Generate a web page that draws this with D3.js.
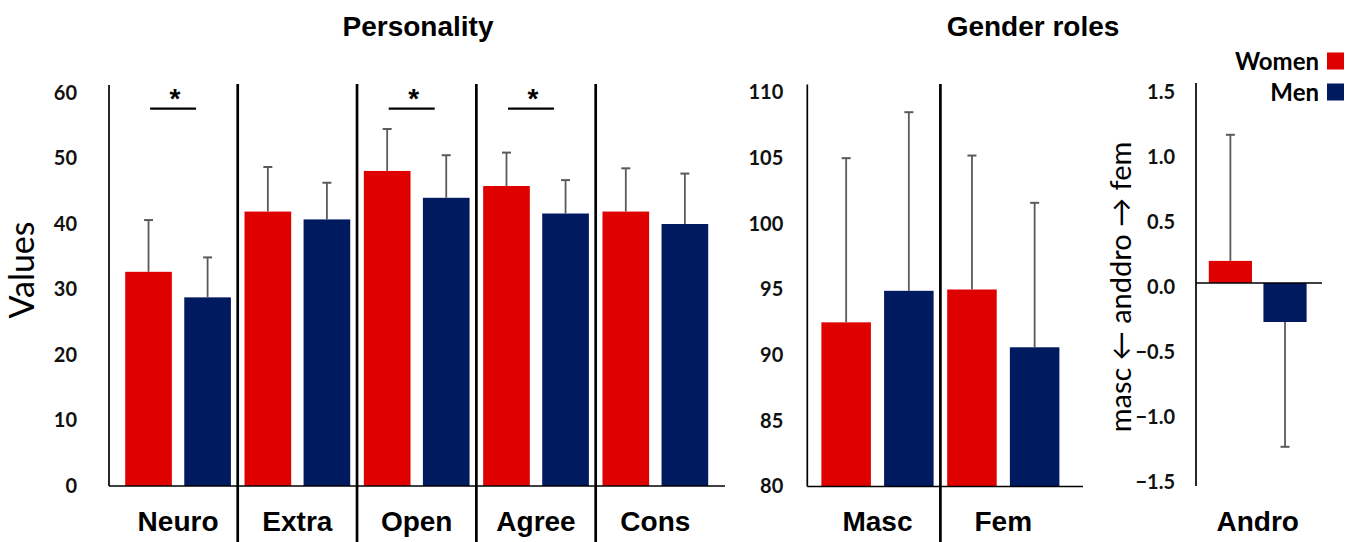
<!DOCTYPE html>
<html>
<head>
<meta charset="utf-8">
<script src="https://cdn.jsdelivr.net/npm/d3@7"></script>
<style>
  html, body { margin: 0; padding: 0; background: #fff; }
  svg { display: block; }
  .tick text { font-family: Lato, "Open Sans", sans-serif; font-weight: 700; font-size: 20px; fill: #111; }
</style>
</head>
<body>
<svg id="chart" width="1355" height="542"></svg>
<script>
// ---- data ----
const groups = ["Women", "Men"];

const traits = ["Neuro", "Extra", "Open", "Agree", "Cons"];
const traitWomen   = [32.7, 41.9, 48.1, 45.8, 41.9];
const traitWomenSD = [7.9, 6.8, 6.4, 5.1, 6.6];
const traitMen     = [28.8, 40.7, 44.0, 41.6, 40.0];
const traitMenSD   = [6.1, 5.6, 6.5, 5.1, 7.7];
const traitSignificant = ["Neuro", "Open", "Agree"];
const traitTicks = [0, 10, 20, 30, 40, 50, 60];

const roles = ["Masc", "Fem"];
const roleWomen   = [92.5, 95.0];
const roleWomenSD = [12.5, 10.2];
const roleMen     = [94.9, 90.6];
const roleMenSD   = [13.6, 11.0];
const roleTicks = [80, 85, 90, 95, 100, 105, 110];

const andro = ["Andro"];
const androWomen   = [0.17];
const androWomenSD = [0.97];
const androMen     = [-0.30];
const androMenSD   = [0.96];
const androTicks = [-1.5, -1.0, -0.5, 0.0, 0.5, 1.0, 1.5];

const colors = { Women: "#df0000", Men: "#001a60" };
const errColor = "#5a5a5a";
const titleFont = "'Liberation Sans', Arial, sans-serif";
const labelFont = "Lato, 'Open Sans', sans-serif";

const svg = d3.select("#chart");

function rows(cats, w, wsd, m, msd) {
  return cats.map((c, i) => ({
    cat: c,
    values: [
      { key: "Women", v: w[i], sd: wsd[i] },
      { key: "Men", v: m[i], sd: msd[i] }
    ]
  }));
}

// draws one panel: axis, bars with error bars, category labels
function panel(opts) {
  const { data, x, y, ticks, fmt, axisX, baseEnd, pad, topExt, sepTop, separators, labelDy } = opts;
  const g = svg.append("g");
  const sub = d3.scaleBand().domain(groups)
    .range([6.8, x.bandwidth() - 6.8]).paddingInner(0.21);

  const base = y(Math.max(y.domain()[0], Math.min(0, y.domain()[1])));

  // bars
  const cat = g.selectAll("g.cat").data(data).join("g")
    .attr("class", "cat")
    .attr("transform", d => `translate(${x(d.cat)},0)`);

  cat.selectAll("rect").data(d => d.values).join("rect")
    .attr("x", d => sub(d.key))
    .attr("width", sub.bandwidth())
    .attr("y", d => Math.min(y(d.v), base))
    .attr("height", d => Math.abs(y(d.v) - base))
    .attr("fill", d => colors[d.key]);

  // error bars pointing away from the baseline
  const eb = cat.selectAll("g.err").data(d => d.values).join("g").attr("class", "err");
  const end = d => y(d.v + (d.v >= 0 ? d.sd : -d.sd));
  eb.append("line")
    .attr("x1", d => sub(d.key) + sub.bandwidth() / 2)
    .attr("x2", d => sub(d.key) + sub.bandwidth() / 2)
    .attr("y1", d => y(d.v))
    .attr("y2", end)
    .attr("stroke", errColor).attr("stroke-width", 1.8);
  eb.append("line")
    .attr("x1", d => sub(d.key) + sub.bandwidth() / 2 - 4.5)
    .attr("x2", d => sub(d.key) + sub.bandwidth() / 2 + 4.5)
    .attr("y1", end).attr("y2", end)
    .attr("stroke", errColor).attr("stroke-width", 2);

  // y axis (labels only, line drawn separately)
  const ax = g.append("g")
    .attr("transform", `translate(${axisX},0)`)
    .call(d3.axisLeft(y).tickValues(ticks).tickFormat(fmt).tickSize(0).tickPadding(pad));
  ax.select(".domain").remove();
  if (labelDy) ax.selectAll(".tick text").attr("dy", labelDy);

  g.append("line")
    .attr("x1", axisX).attr("x2", axisX)
    .attr("y1", y(y.domain()[1]) - topExt)
    .attr("y2", opts.axisBottom !== undefined ? opts.axisBottom : base)
    .attr("stroke", "#000").attr("stroke-width", 1.7);

  // baseline
  g.append("line")
    .attr("x1", axisX).attr("x2", baseEnd)
    .attr("y1", base).attr("y2", base)
    .attr("stroke", "#000").attr("stroke-width", 1.7);

  // category separators
  if (separators) {
    x.domain().slice(1).forEach(c => {
      g.append("line")
        .attr("x1", x(c)).attr("x2", x(c))
        .attr("y1", sepTop).attr("y2", 542)
        .attr("stroke", "#000").attr("stroke-width", 2.7);
    });
  }

  // category labels
  g.selectAll("text.cat").data(x.domain()).join("text")
    .attr("class", "cat")
    .attr("x", d => x(d) + x.bandwidth() / 2)
    .attr("y", 531)
    .attr("text-anchor", "middle")
    .attr("font-family", titleFont)
    .attr("font-weight", 700)
    .attr("font-size", 28)
    .attr("fill", "#000")
    .text(d => d);

  return g;
}

// ---- Personality ----
const y1 = d3.scaleLinear().domain([0, 60]).range([486, 93]);
const x1 = d3.scaleBand().domain(traits).range([118.4, 715]);
panel({
  data: rows(traits, traitWomen, traitWomenSD, traitMen, traitMenSD),
  x: x1, y: y1, ticks: traitTicks, fmt: d3.format("d"),
  axisX: 109, baseEnd: 725, pad: 32, topExt: 8, sepTop: 84, separators: true
});

// significance markers
const sigLevel = 57.6;
traitSignificant.forEach(c => {
  const cx = x1(c) + x1.bandwidth() / 2 - 5;
  svg.append("line")
    .attr("x1", cx - 23).attr("x2", cx + 23)
    .attr("y1", y1(sigLevel)).attr("y2", y1(sigLevel))
    .attr("stroke", "#000").attr("stroke-width", 2.2);
  svg.append("text")
    .attr("x", cx + 2).attr("y", y1(sigLevel) - 1)
    .attr("text-anchor", "middle")
    .attr("font-family", titleFont).attr("font-weight", 700).attr("font-size", 28)
    .text("*");
});

svg.append("text")
  .attr("transform", "translate(34,270) rotate(-90)")
  .attr("text-anchor", "middle")
  .attr("font-family", labelFont).attr("font-size", 34)
  .text("Values");

svg.append("text")
  .attr("x", 418).attr("y", 36)
  .attr("text-anchor", "middle")
  .attr("font-family", titleFont).attr("font-weight", 700).attr("font-size", 28)
  .text("Personality");

// ---- Gender roles ----
const y2 = d3.scaleLinear().domain([80, 110]).range([486.5, 92.5]);
const x2 = d3.scaleBand().domain(roles).range([814.6, 1066.2]);
panel({
  data: rows(roles, roleWomen, roleWomenSD, roleMen, roleMenSD),
  x: x2, y: y2, ticks: roleTicks, fmt: d3.format("d"),
  axisX: 807.3, baseEnd: 1083, pad: 24, topExt: 8, sepTop: 84, separators: true
});

svg.append("text")
  .attr("x", 1033).attr("y", 36)
  .attr("text-anchor", "middle")
  .attr("font-family", titleFont).attr("font-weight", 700).attr("font-size", 28)
  .text("Gender roles");

// ---- Androgyny ----
const y3 = d3.scaleLinear().domain([-1.5, 1.5]).range([478, 88]);
const x3 = d3.scaleBand().domain(andro).range([1202, 1313.4]);
panel({
  data: rows(andro, androWomen, androWomenSD, androMen, androMenSD),
  x: x3, y: y3, ticks: androTicks, fmt: d3.format(".1f"),
  axisX: 1196, baseEnd: 1322, pad: 21, topExt: 5, axisBottom: 486, separators: false,
  labelDy: "0.5em"
});

svg.append("text")
  .attr("transform", "translate(1131,287) rotate(-90)")
  .attr("text-anchor", "middle")
  .attr("font-family", labelFont).attr("font-size", 29)
  .text("masc \u2190 anddro \u2192 fem");

// ---- legend ----
const legend = svg.append("g");
groups.forEach((k, i) => {
  const cy = 61 + i * 31;
  legend.append("rect")
    .attr("x", 1327).attr("y", cy - 8.5)
    .attr("width", 17).attr("height", 17)
    .attr("fill", colors[k]);
  legend.append("text")
    .attr("x", 1319).attr("y", cy)
    .attr("dy", "0.36em")
    .attr("text-anchor", "end")
    .attr("font-family", labelFont).attr("font-weight", 700).attr("font-size", 24)
    .text(k);
});
</script>
</body>
</html>
